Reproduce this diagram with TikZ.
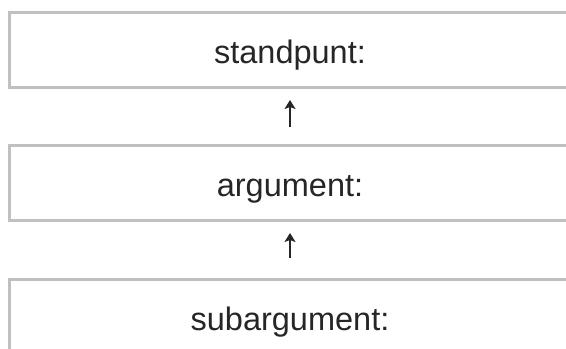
\documentclass[tikz,border=0pt]{standalone}
\usepackage{fontspec}
\setmainfont{Liberation Sans}
\usetikzlibrary{arrows.meta}
\definecolor{boxgray}{HTML}{C0C0C0}
\definecolor{ink}{HTML}{262626}
\tikzset{
  panel/.style={draw=boxgray, line width=3bp, minimum width=566bp, minimum height=75bp, inner sep=0pt},
  lbl/.style={text=ink, font=\fontsize{32.5bp}{38bp}\selectfont, inner sep=0pt, anchor=base},
  uparrow/.style={draw=ink, line width=1.5bp, -{Stealth[width=11bp,length=9bp,inset=2bp]}}
}
\begin{document}
\begin{tikzpicture}[x=1bp,y=-1bp]
\useasboundingbox (0,0) rectangle (566,348);
\clip (0,0) rectangle (566,348);
\node[panel] (b1) at (292.5,50) {};
\node[panel] (b2) at (292.5,183) {};
\node[panel] (b3) at (292.5,317) {};
\node[lbl] (t1) at (290,63) {standpunt:};
\node[lbl] (t2) at (290,196) {argument:};
\node[lbl] (t3) at (290,330) {subargument:};
\draw[uparrow, shorten <=17bp, shorten >=11bp] (b2.north -| t1.base) -- (b1.south -| t1.base);
\draw[uparrow, shorten <=20bp, shorten >=11bp] (b3.north -| t2.base) -- (b2.south -| t2.base);
\end{tikzpicture}
\end{document}
